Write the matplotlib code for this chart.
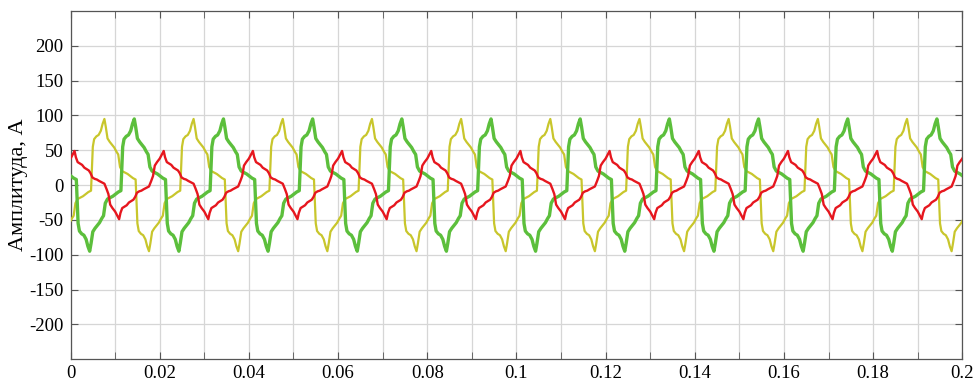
import numpy as np
import matplotlib
matplotlib.use("Agg")
from matplotlib import pyplot as plt
from matplotlib.ticker import MultipleLocator

# one period (20 ms) of each current
period_ms = 20.0
t_green_ms = [0.1, 0.7, 1.3, 1.7, 2.0, 2.5, 3.0, 3.5, 3.9, 4.3, 4.6, 5.0, 5.5, 6.0, 6.5,
              7.0, 7.4, 7.8, 8.3, 8.9, 9.5, 10.1, 10.7,
              11.3, 11.7, 12.0, 12.5, 13.0, 13.5, 13.9, 14.3, 14.6, 15.0, 15.5, 16.0, 16.5,
              17.0, 17.4, 17.8, 18.3, 18.9, 19.5]
i_green = [13, 10, 8, -55, -66, -70, -72, -78, -88, -95, -84, -67, -62, -58, -54,
           -48, -44, -26, -20, -18, -16, -13, -10,
           -8, 55, 66, 70, 72, 78, 88, 95, 84, 67, 62, 58, 54,
           48, 44, 26, 20, 18, 16]
yellow_lead_ms = 6.7   # yellow phase has the same shape as green, leading it

t_red_ms = [0.0, 0.4, 0.9, 1.2, 1.6, 2.1, 2.6, 3.1, 3.6, 4.1, 4.5, 4.9, 5.4, 5.9, 6.4,
            7.0, 7.6, 8.1, 8.5, 8.9, 9.4,
            10.0, 10.4, 10.9, 11.2, 11.6, 12.1, 12.6, 13.1, 13.6, 14.1, 14.5, 14.9, 15.4,
            15.9, 16.4, 17.0, 17.6, 18.1, 18.5, 18.9, 19.4]
i_red = [38, 43, 49, 40, 33, 31, 29, 25, 23, 21, 17, 11, 9, 8, 6,
         4, 2, -6, -13, -28, -33,
         -38, -43, -49, -40, -33, -31, -29, -25, -23, -21, -17, -11, -9,
         -8, -6, -4, -2, 6, 13, 28, 33]

n_periods = 10
x_ticks = [0, 0.02, 0.04, 0.06, 0.08, 0.1, 0.12, 0.14, 0.16, 0.18, 0.2]
x_ticklabels = ['0', '0.02', '0.04', '0.06', '0.08', '0.1', '0.12', '0.14', '0.16', '0.18', '0.2']
y_ticks = [-200, -150, -100, -50, 0, 50, 100, 150, 200]


def repeat_period(t_ms, vals, shift_ms=0.0):
    t_ms = np.asarray(t_ms, dtype=float)
    vals = np.asarray(vals, dtype=float)
    tt = np.concatenate([t_ms + k * period_ms for k in range(-1, n_periods + 2)])
    vv = np.tile(vals, n_periods + 3)
    tt = tt - shift_ms
    keep = (tt >= -1.0) & (tt <= n_periods * period_ms + 1.0)
    return tt[keep] / 1000.0, vv[keep]


plt.rcParams['font.family'] = ['Liberation Serif', 'DejaVu Serif']

fig = plt.figure(figsize=(9.74, 3.87), dpi=100)
ax = fig.add_axes([0.0724, 0.072, 0.9156, 0.8995])

ty, vy = repeat_period(t_green_ms, i_green, yellow_lead_ms)
tg, vg = repeat_period(t_green_ms, i_green)
tr, vr = repeat_period(t_red_ms, i_red)

ax.plot(ty, vy, color='#c8c62c', lw=1.6, zorder=3)
ax.plot(tg, vg, color='#5cbf3c', lw=2.4, zorder=4)
ax.plot(tr, vr, color='#e6161e', lw=1.7, zorder=5)

ax.set_xlim(0, 0.2)
ax.set_ylim(-250, 250)
ax.set_xticks(x_ticks)
ax.set_xticklabels(x_ticklabels)
ax.xaxis.set_minor_locator(MultipleLocator(0.01))
ax.set_yticks(y_ticks)
ax.set_yticklabels([str(v) for v in y_ticks])

ax.grid(True, which='both', color='#d6d6d6', lw=0.9, zorder=0)
ax.set_axisbelow(True)
ax.tick_params(which='both', direction='in', top=True, right=True,
               labelsize=13.5, color='#555555', length=5)
ax.tick_params(axis='x', pad=4)
ax.tick_params(axis='y', pad=5)
for s in ax.spines.values():
    s.set_color('#555555')
    s.set_linewidth(0.9)

ax.set_ylabel('Амплитуда, А', fontsize=16, labelpad=1)

fig.savefig('out.png', dpi=100)
